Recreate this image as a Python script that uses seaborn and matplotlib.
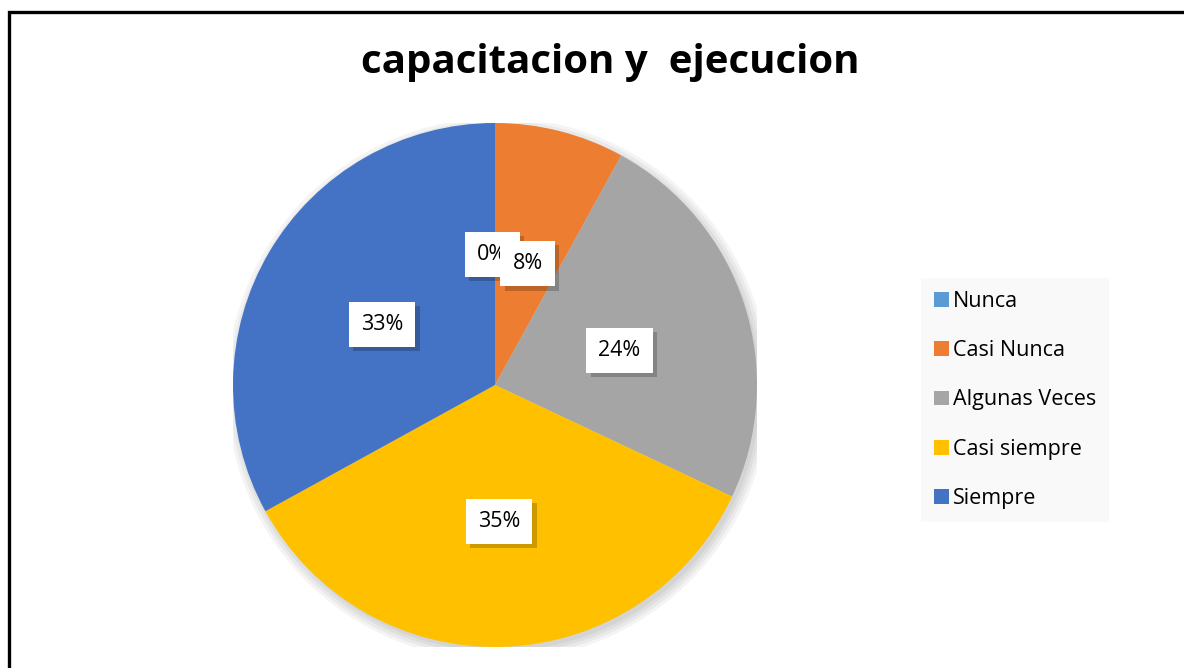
import numpy as np
import seaborn as sns
import matplotlib.pyplot as plt
import matplotlib.patheffects as pe
from matplotlib.lines import Line2D
from matplotlib.patches import Circle

categories = ["Nunca", "Casi Nunca", "Algunas Veces", "Casi siempre", "Siempre"]
values = [0, 8, 24, 35, 33]
pct_labels = ["0%", "8%", "24%", "35%", "33%"]
colors = ["#5B9BD5", "#ED7D31", "#A5A5A5", "#FFC000", "#4472C4"]

sns.set_theme(style="white")
plt.rcParams["font.family"] = ["Open Sans", "DejaVu Sans"]

W, H = 1184, 668
fig = plt.figure(figsize=(W / 100, H / 100), dpi=100)
fig.patch.set_facecolor("white")

# pie axes: centre (495, 385), radius 262 px
cx, cy, r = 495, 385, 262
ax = fig.add_axes([(cx - r) / W, (H - cy - r) / H, 2 * r / W, 2 * r / H])

# soft shadow behind the pie
for k in range(4):
    ax.add_patch(Circle((0.012, -0.016), 1.0 + 0.012 * (3 - k), color="black",
                        alpha=0.045, lw=0, zorder=0))

wedges, _ = ax.pie(values, colors=sns.color_palette(colors), startangle=90,
                   counterclock=False, radius=1.0,
                   wedgeprops=dict(linewidth=0, zorder=1))
ax.set_xlim(-1, 1)
ax.set_ylim(-1, 1)
ax.set_aspect("auto")
ax.axis("off")

# percentage labels at half radius
total = sum(values)
start = 90.0
for i, (v, lab) in enumerate(zip(values, pct_labels)):
    mid = start - 360.0 * (v / total) / 2
    start -= 360.0 * v / total
    x = 0.5 * np.cos(np.radians(mid))
    y = 0.5 * np.sin(np.radians(mid)) - 0.022
    if v == 0:
        x -= 0.01
        y += 0.02
    t = ax.text(x, y, lab, ha="center", va="center", fontsize=15.5, color="black",
                zorder=5 + i,
                bbox=dict(boxstyle="square,pad=0.56", fc="white", ec="none"))
    t.get_bbox_patch().set_path_effects(
        [pe.SimplePatchShadow(offset=(3, -3), alpha=0.2, shadow_rgbFace="black"), pe.Normal()])

fig.text(610 / W, 1 - 62 / H, "capacitacion y  ejecucion", ha="center", va="center",
         fontsize=29, fontweight="bold", color="black")

leg = fig.legend(wedges, categories, loc="center", bbox_to_anchor=(1015 / W, 1 - 400 / H),
                 frameon=True, fancybox=False, fontsize=15.5, labelcolor="black",
                 handlelength=0.68, handleheight=0.68, handletextpad=0.2,
                 labelspacing=1.32, borderpad=0.6, borderaxespad=0)
leg.get_frame().set_facecolor("#F8F8F8")
leg.get_frame().set_edgecolor("none")

# outer frame (left and top edges visible)
fig.add_artist(Line2D([8.5 / W, 8.5 / W, 1.0], [0.0, 1 - 11.5 / H, 1 - 11.5 / H],
                      transform=fig.transFigure, color="black", lw=2.4,
                      solid_joinstyle="miter"))

fig.savefig("out.png", dpi=100)
